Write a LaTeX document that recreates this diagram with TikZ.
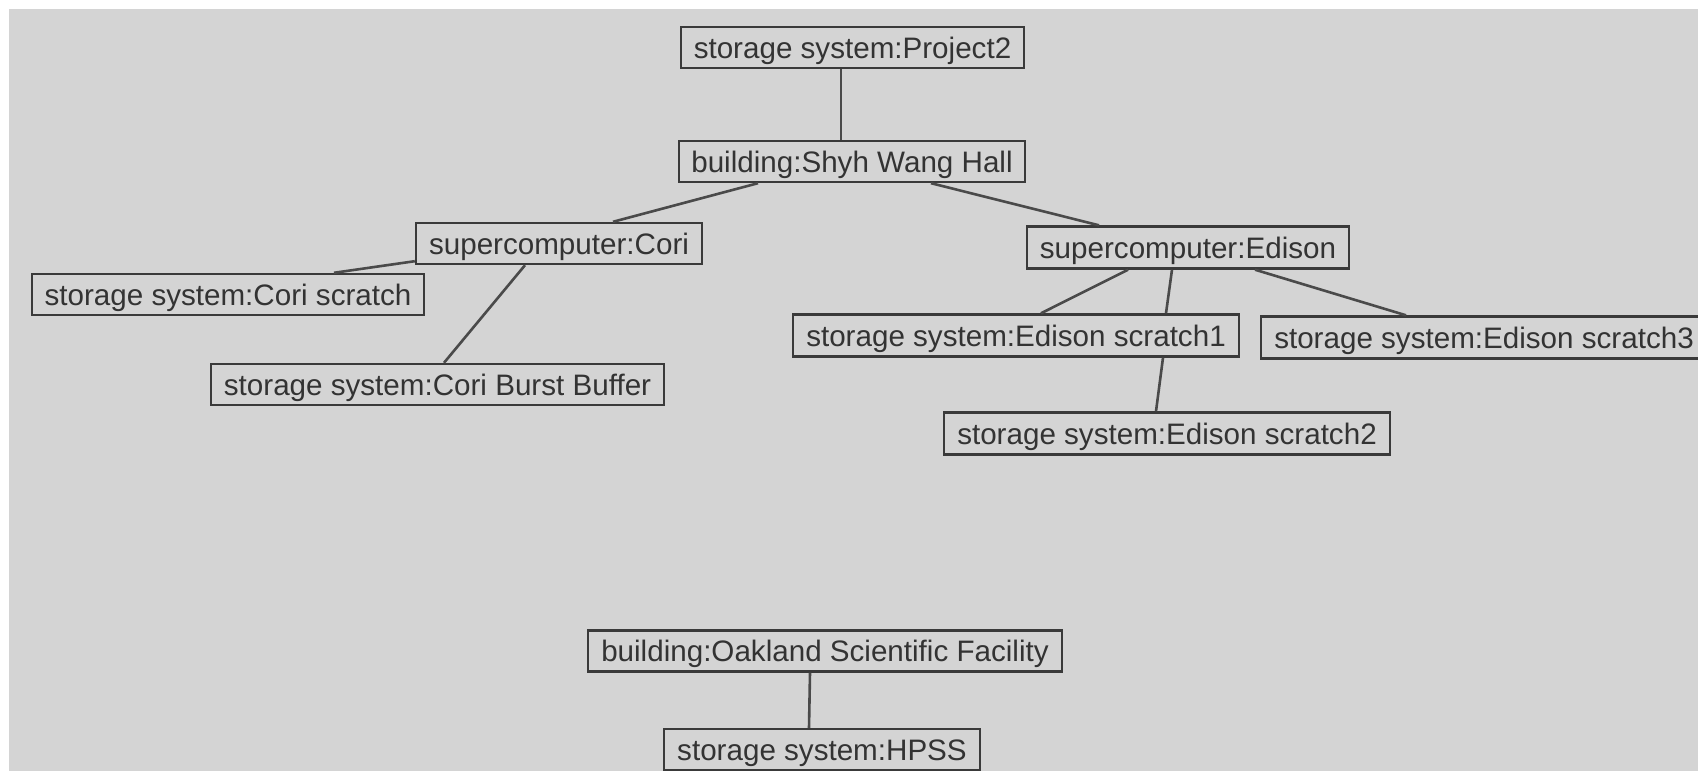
\documentclass[tikz,border=0pt]{standalone}
\usepackage{fontspec}
\setmainfont{Liberation Sans}
\definecolor{bggrey}{HTML}{D4D4D4}
\definecolor{boxline}{HTML}{3A3A3A}
\definecolor{txt}{HTML}{333333}
\definecolor{conn}{HTML}{4A4A4A}
\tikzset{
  entity/.style={draw=boxline, line width=2.4pt, fill=bggrey, text=txt,
    inner sep=0pt, minimum height=41pt, text height=21pt, text depth=0pt,
    font=\fontsize{29.6}{34}\selectfont},
  link/.style={draw=conn, line width=2.6pt}
}
\begin{document}
\begin{tikzpicture}[x=1pt,y=-1pt]
\useasboundingbox (0,0) rectangle (1698,771);
\clip (0,0) rectangle (1698,771);
\fill[white] (0,0) rectangle (1698,771);
\fill[bggrey] (9,9) rectangle (1698,771);

\node[entity, minimum width=343pt] (proj) at (852.5,47.5) {storage system:Project2};
\node[entity, minimum width=346pt] (shyh) at (852,161.5) {building:Shyh Wang Hall};
\node[entity, minimum width=286pt] (cori) at (559,243.5) {supercomputer:Cori};
\node[entity, minimum width=392pt] (corisc) at (228,294.5) {storage system:Cori scratch};
\node[entity, minimum width=453pt] (coribb) at (437.5,384.5) {storage system:Cori Burst Buffer};
\node[entity, minimum width=322pt, minimum height=42pt] (edison) at (1188,247.5) {supercomputer:Edison};
\node[entity, minimum width=446pt, minimum height=42pt] (e1) at (1016,335.5) {storage system:Edison scratch1};
\node[entity, minimum width=446pt, minimum height=42pt] (e3) at (1484,337.5) {storage system:Edison scratch3};
\node[entity, minimum width=446pt, minimum height=42pt] (e2) at (1167,433.5) {storage system:Edison scratch2};
\node[entity, minimum width=474pt] (oak) at (825,651) {building:Oakland Scientific Facility};
\node[entity, minimum width=316pt] (hpss) at (822,749.5) {storage system:HPSS};

\draw[link, line width=1.8pt] ([xshift=-11.5pt]proj.south) -- ([xshift=-11pt]shyh.north);
\draw[link] ([xshift=-94pt]shyh.south) -- ([xshift=54pt]cori.north);
\draw[link] ([xshift=79pt]shyh.south) -- ([xshift=-89pt]edison.north);
\draw[link] ([yshift=4pt]cori.south west) -- ([xshift=106pt]corisc.north);
\draw[link] ([xshift=-34pt]cori.south) -- ([xshift=6.5pt]coribb.north);
\draw[link] ([xshift=-60pt]edison.south) -- ([xshift=25pt]e1.north);
\draw[link] ([xshift=-16pt]edison.south) -- ([xshift=150pt]e1.north);
\draw[link] ([xshift=67pt]edison.south) -- ([xshift=-78pt]e3.north);
\draw[link] ([xshift=147pt]e1.south) -- ([xshift=-11pt]e2.north);
\draw[link] ([xshift=-15pt]oak.south) -- ([xshift=-13pt]hpss.north);
\end{tikzpicture}
\end{document}
